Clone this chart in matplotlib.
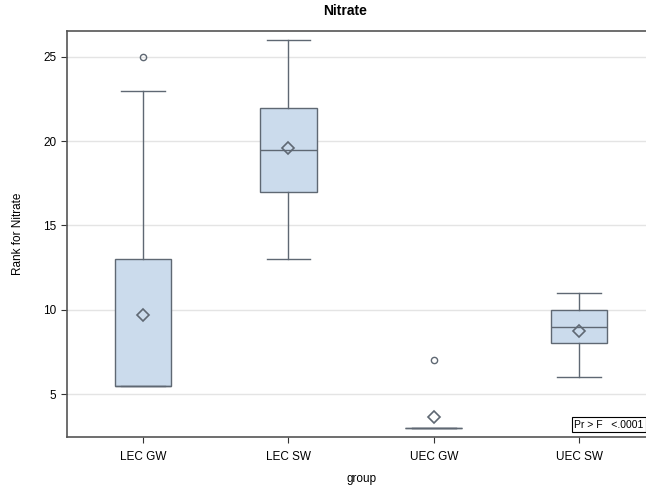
import matplotlib
matplotlib.use("Agg")
import matplotlib.pyplot as plt

plt.rcParams["font.family"] = ["Liberation Sans", "DejaVu Sans"]

groups = ["LEC GW", "LEC SW", "UEC GW", "UEC SW"]
whisker_lo = [5.5, 13.0, 3.0, 6.0]
q1 = [5.5, 17.0, 3.0, 8.0]
medians = [5.5, 19.5, 3.0, 9.0]
q3 = [13.0, 22.0, 3.0, 10.0]
whisker_hi = [23.0, 26.0, 3.0, 11.0]
means = [9.7, 19.6, 3.65, 8.75]
outliers = [[25.0], [], [7.0], []]

EDGE = "#5f6873"
FILL = "#cbdbec"

stats = []
for i, g in enumerate(groups):
    stats.append(dict(label=g, whislo=whisker_lo[i], q1=q1[i], med=medians[i],
                      q3=q3[i], whishi=whisker_hi[i], mean=means[i],
                      fliers=outliers[i]))

fig = plt.figure(figsize=(6.46, 4.87), dpi=100)
ax = fig.add_axes([67 / 646, 50 / 487, 1.0 - 67 / 646, 406 / 487])

ax.bxp(stats, positions=range(len(groups)), widths=0.39,
       patch_artist=True, showmeans=True, showcaps=True,
       boxprops=dict(facecolor=FILL, edgecolor=EDGE, linewidth=1.0),
       medianprops=dict(color=EDGE, linewidth=1.0),
       whiskerprops=dict(color=EDGE, linewidth=1.0),
       capprops=dict(color=EDGE, linewidth=1.0),
       capwidths=0.3,
       meanprops=dict(marker="D", markerfacecolor="none", markeredgecolor=EDGE,
                      markersize=6, markeredgewidth=1.2),
       flierprops=dict(marker="o", markerfacecolor="none", markeredgecolor=EDGE,
                       markersize=4.5, markeredgewidth=1.0))

ax.set_xlim(-0.523, 3.46)
ax.set_ylim(2.45, 26.54)
ax.set_yticks([5, 10, 15, 20, 25])
ax.yaxis.grid(True, color="#e4e4e4", linewidth=1.0)
ax.set_axisbelow(True)
ax.tick_params(axis="both", labelsize=8.5, colors="#333333", length=4,
               labelcolor="black")
ax.tick_params(axis="x", pad=6)
for side in ["left", "top", "bottom"]:
    ax.spines[side].set_color("#555555")
    ax.spines[side].set_linewidth(1.2)
ax.spines["right"].set_visible(False)

fig.text(345 / 646, 1 - 11 / 487, "Nitrate", ha="center", va="center",
         fontsize=10, fontweight="bold")
fig.text(362 / 646, 1 - 479 / 487, "group", ha="center", va="center",
         fontsize=8.5)
fig.text(18 / 646, 1 - 234 / 487, "Rank for Nitrate", ha="center",
         va="center", rotation=90, fontsize=8.5)

ax.text(0.996, 0.018, "Pr > F   <.0001", transform=ax.transAxes,
        ha="right", va="bottom", fontsize=7.5,
        bbox=dict(boxstyle="square,pad=0.25", facecolor="white",
                  edgecolor="black", linewidth=0.8))

fig.savefig("out.png", dpi=100)
